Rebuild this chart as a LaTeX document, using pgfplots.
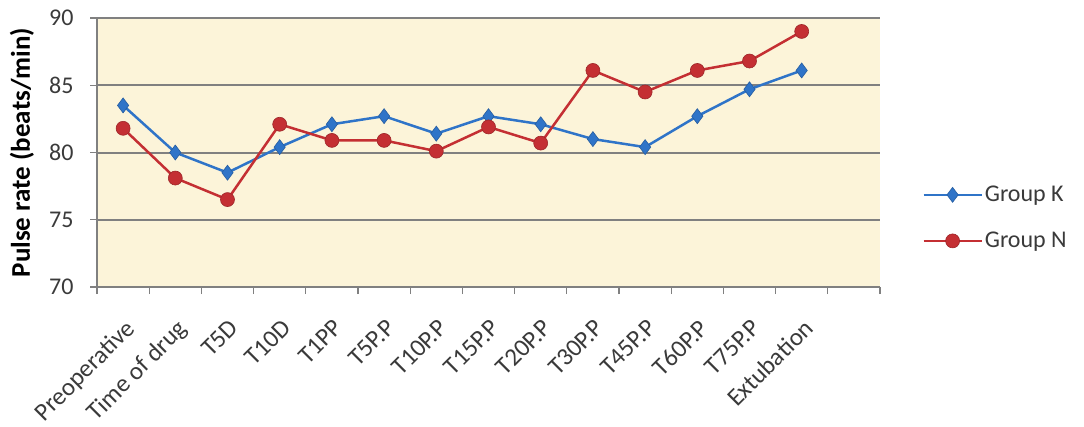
\documentclass[border=0pt]{standalone}
\usepackage{pgfplots}
\pgfplotsset{compat=1.18}
\usepackage{fontspec}
\setmainfont{Carlito}

\definecolor{kblue}{HTML}{2F74C8}
\definecolor{nred}{HTML}{C42F33}
\definecolor{plotbg}{HTML}{FCF4D9}
\definecolor{gridgray}{HTML}{808080}
\definecolor{textgray}{HTML}{3A3A3A}

\begin{document}
\begin{tikzpicture}[x=1pt,y=1pt]
\begin{axis}[
  at={(97pt,139pt)}, anchor=south west,
  scale only axis, width=783pt, height=269pt,
  xmin=-0.5, xmax=14.5, ymin=70, ymax=90,
  ytick={70,75,...,90},
  xtick={0,...,13},
  xticklabels={Preoperative,Time of drug,T5D,T10D,T1PP,T5P.P,T10P.P,T15P.P,T20P.P,T30P.P,T45P.P,T60P.P,T75P.P,Extubation},
  minor xtick={-0.5,0.5,...,14.5},
  major x tick style={draw=none},
  tick align=outside,
  major tick length=7pt, minor tick length=7pt,
  tick style={draw=gridgray, line width=1.2pt},
  axis lines*=left,
  axis line style={-, draw=gridgray, line width=1.5pt},
  axis background/.style={fill=plotbg},
  ymajorgrids=true,
  grid style={draw=gridgray, line width=2pt},
  /pgf/number format/assume math mode=true,
  yticklabel style={font=\fontsize{24}{28}\selectfont, text=textgray, xshift=-13pt},
  xticklabel style={rotate=45, anchor=north east, font=\fontsize{25}{30}\selectfont,
    text=textgray, yshift=-14pt, xshift=-13pt},
  ylabel={\bfseries Pulse rate (beats/min)},
  every axis y label/.style={at={(axis description cs:-0.096,0.5)}, rotate=90,
    anchor=center, font=\fontsize{27}{32}\selectfont, text=black},
  legend style={at={(1.05,0.257)}, anchor=west, draw=none, fill=none,
    font=\fontsize{24}{28}\selectfont, text=textgray, row sep=25pt},
  legend cell align=left,
  legend image code/.code={\draw[#1, mark repeat=2, mark phase=2] plot coordinates {(0pt,0pt) (29pt,0pt) (58pt,0pt)};},
]
\addplot[color=kblue, line width=2.5pt, mark=diamond*, mark size=7.5pt,
  mark options={solid, fill=kblue, draw=kblue!80!black, line width=0.6pt}]
  coordinates {(0,83.5) (1,80.0) (2,78.5) (3,80.4) (4,82.1) (5,82.7) (6,81.4)
               (7,82.7) (8,82.1) (9,81.0) (10,80.4) (11,82.7) (12,84.7) (13,86.1)};
\addlegendentry{Group K}
\addplot[color=nred, line width=2.5pt, mark=*, mark size=7pt,
  mark options={solid, fill=nred, draw=nred!80!black, line width=0.6pt}]
  coordinates {(0,81.8) (1,78.1) (2,76.5) (3,82.1) (4,80.9) (5,80.9) (6,80.1)
               (7,81.9) (8,80.7) (9,86.1) (10,84.5) (11,86.1) (12,86.8) (13,89.0)};
\addlegendentry{Group N}
\end{axis}
\pgfresetboundingbox
\useasboundingbox (0,0) rectangle (1084pt,426pt);
\end{tikzpicture}
\end{document}
